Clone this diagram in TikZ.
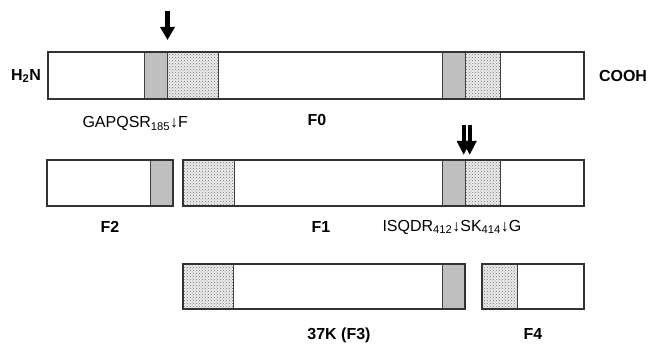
\documentclass[tikz,border=0pt]{standalone}
\usepackage{fontspec}
\setmainfont{Liberation Sans}
\usetikzlibrary{arrows.meta, patterns}

\begin{document}
\begin{tikzpicture}[
  x=1pt, y=-1pt,
  seg/.style={draw=black!75, line width=0.8pt},
  tm/.style={seg, fill=gray!50},
  stip/.style={seg, preaction={fill=gray!15}, pattern=crosshatch dots, pattern color=black!55},
  bar/.style={draw=black!80, line width=1.3pt},
  lbl/.style={font=\bfseries\fontsize{16}{19}\selectfont, anchor=base},
  seq/.style={font=\fontsize{16}{19}\selectfont, anchor=base west},
  cutarr/.style={line width=5pt, -{Triangle[width=14pt,length=13pt]}},
  cutarrs/.style={line width=4pt, -{Triangle[width=13pt,length=14pt]}}
]
\fill[white] (0,0) rectangle (652,347);
\useasboundingbox (0,0) rectangle (652,347);

% ----- F0 (y = 52..99) -----
\draw[tm]   (144,52) rectangle (167,99);
\draw[stip] (167,52) rectangle (218,99);
\draw[tm]   (442,52) rectangle (465,99);
\draw[stip] (465,52) rectangle (500,99);
\draw[bar]  (48,52) rectangle (584,99);
\node[font=\bfseries\fontsize{16}{19}\selectfont] (nterm) at (26,76) {H\textsubscript{2}N};
\node[font=\bfseries\fontsize{16}{19}\selectfont] (cterm) at (623,76) {COOH};
\node[seq] (site1) at (79,128) {GAPQSR\textsubscript{185}↓F};
\node[lbl] (f0) at (317,126) {F0};

% ----- F2 / F1 (y = 160..206) -----
\draw[tm]   (150,160) rectangle (173,206);
\draw[bar]  (47,160) rectangle (173,206);
\draw[stip] (183,160) rectangle (234,206);
\draw[tm]   (442,160) rectangle (465,206);
\draw[stip] (465,160) rectangle (500,206);
\draw[bar]  (183,160) rectangle (584,206);
\node[lbl] (f2) at (110,233) {F2};
\node[lbl] (f1) at (321,232) {F1};
\node[seq] (site2) at (379,231) {ISQDR\textsubscript{412}↓SK\textsubscript{414}↓G};

% ----- F3 / F4 (y = 264..309) -----
\draw[stip] (183,264) rectangle (233,309);
\draw[tm]   (442,264) rectangle (465,309);
\draw[bar]  (183,264) rectangle (465,309);
\draw[stip] (482,264) rectangle (517,309);
\draw[bar]  (482,264) rectangle (584,309);
\node[lbl] (f3) at (339,339) {37K (F3)};
\node[lbl] (f4) at (533,339) {F4};

% ----- Cleavage arrows -----
\coordinate (cutA) at (167.5,11);
\coordinate (cutAend) at (167.5,40);
\coordinate (cutB) at (463.7,125);
\coordinate (cutBend) at (463.7,155);
\coordinate (cutC) at (469.7,125);
\coordinate (cutCend) at (469.7,155);
\draw[cutarr] (cutA) -- (cutAend);
\draw[cutarrs] (cutB) -- (cutBend);
\draw[cutarrs] (cutC) -- (cutCend);

\end{tikzpicture}
\end{document}
